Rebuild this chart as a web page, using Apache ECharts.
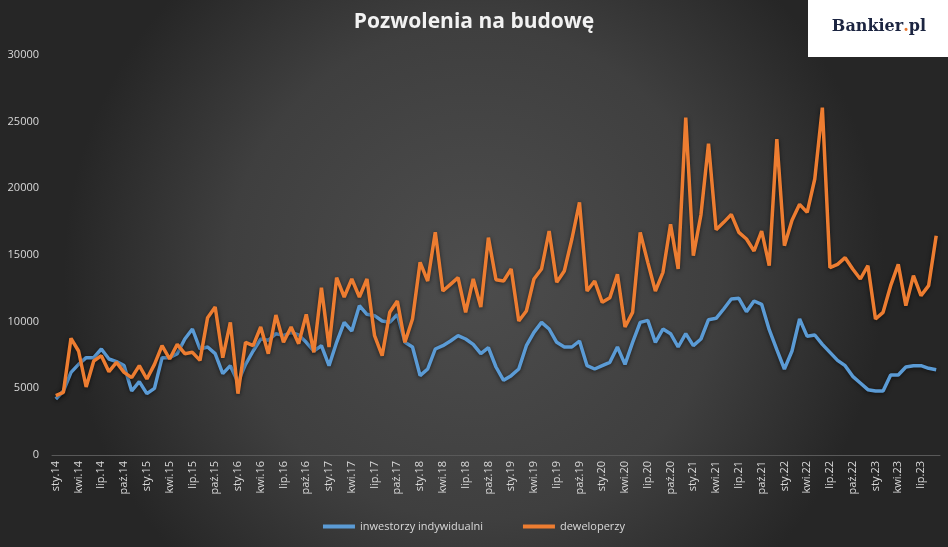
<!DOCTYPE html>
<html>
<head>
<meta charset="utf-8">
<script src="https://cdn.jsdelivr.net/npm/echarts@6/dist/echarts.min.js"></script>
<style>
    html, body { margin: 0; padding: 0; }
    #chart { width: 948px; height: 547px; }
</style>
</head>
<body>
<div id="chart"></div>
<script>
// miesiące sty.14 - wrz.23
var month_names = ["sty", "lut", "mar", "kwi", "maj", "cze", "lip", "sie", "wrz", "paź", "lis", "gru"];
var months = [];
for (var y = 14; y <= 23; y++) {
    for (var m = 0; m < 12; m++) {
        if (y == 23 && m > 8) break;
        months.push(month_names[m] + "." + y);
    }
}

var inwestorzy = [
    4200, 4800, 6200, 6800, 7300, 7300, 7950, 7200, 7000, 6700, 4800, 5500,
    4600, 5000, 7300, 7300, 7600, 8700, 9450, 7950, 8100, 7600, 6100, 6700,
    5450, 6800, 7800, 8700, 8600, 9100, 8950, 9200, 9000, 8450, 7800, 8200,
    6700, 8450, 9950, 9300, 11200, 10550, 10450, 10050, 9950, 10550, 8450, 8100,
    5950, 6450, 7950, 8200, 8550, 8950, 8700, 8300, 7600, 8050, 6600, 5600,
    5950, 6450, 8200, 9200, 9950, 9450, 8450, 8100, 8100, 8550, 6700, 6450,
    6700, 6950, 8100, 6800, 8450, 9950, 10100, 8450, 9450, 9100, 8100, 9100,
    8200, 8700, 10150, 10250, 10950, 11700, 11750, 10750, 11550, 11300, 9400, 7900,
    6450, 7800, 10200, 8900, 9000, 8300, 7700, 7100, 6700, 5900, 5400, 4900,
    4800, 4800, 6000, 6000, 6600, 6700, 6700, 6500, 6400
];

var deweloperzy = [
    4450, 4700, 8750, 7800, 5100, 7050, 7450, 6250, 6950, 6200, 5800, 6700,
    5700, 6800, 8200, 7200, 8300, 7600, 7700, 7100, 10300, 11100, 7300, 9950,
    4600, 8450, 8200, 9600, 7600, 10500, 8450, 9600, 8350, 10550, 7700, 12550,
    8100, 13300, 11850, 13200, 11850, 13200, 8950, 7450, 10700, 11550, 8450, 10200,
    14450, 13050, 16700, 12300, 12800, 13300, 10700, 13200, 11100, 16300, 13150, 13050,
    13950, 10050, 10800, 13200, 13950, 16800, 12950, 13800, 16200, 18950, 12300, 13050,
    11450, 11800, 13550, 9600, 10700, 16700, 14450, 12300, 13700, 17300, 13950, 25300,
    14950, 18000, 23350, 16900, 17450, 18050, 16700, 16200, 15300, 16800, 14200, 23700,
    15700, 17600, 18800, 18200, 20700, 26050, 14050, 14300, 14800, 13950, 13200, 14200,
    10200, 10700, 12700, 14300, 11200, 13450, 11950, 12700, 16450
];

var y_ticks = [0, 5000, 10000, 15000, 20000, 25000, 30000];
var series_names = ["inwestorzy indywidualni", "deweloperzy"];
var text_color = "#d9d9d9";

var chart = echarts.init(document.getElementById("chart"));

chart.setOption({
    backgroundColor: new echarts.graphic.RadialGradient(0.5, 0.5, 0.75, [
        { offset: 0, color: "#4d4d4d" },
        { offset: 0.6, color: "#3f3f3f" },
        { offset: 1, color: "#262626" }
    ]),
    animation: false,
    title: {
        text: "Pozwolenia na budowę",
        left: "center",
        top: 7,
        textStyle: {
            color: "#f2f2f2",
            fontFamily: "Open Sans",
            fontWeight: "bold",
            fontSize: 21
        }
    },
    // logo Bankier.pl
    graphic: [
        {
            type: "rect",
            right: 0,
            top: 0,
            shape: { width: 140, height: 57 },
            style: { fill: "#ffffff" }
        },
        {
            type: "text",
            right: 22,
            top: 19,
            style: {
                text: "{a|Bankier}{b|.}{a|pl}",
                rich: {
                    a: { fontFamily: "DejaVu Serif", fontWeight: "bold", fontSize: 16, fill: "#1c2541" },
                    b: { fontFamily: "DejaVu Serif", fontWeight: "bold", fontSize: 16, fill: "#e8742c" }
                }
            }
        }
    ],
    legend: {
        bottom: 10,
        left: "center",
        itemWidth: 32,
        itemHeight: 4,
        itemGap: 40,
        icon: "rect",
        textStyle: { color: text_color, fontFamily: "Open Sans", fontSize: 11 },
        data: series_names
    },
    grid: {
        left: 52,
        right: 8,
        top: 55,
        bottom: 92
    },
    xAxis: {
        type: "category",
        data: months,
        boundaryGap: true,
        axisLine: { lineStyle: { color: "#595959" } },
        axisTick: { interval: 2, length: 4, lineStyle: { color: "#595959" } },
        axisLabel: {
            interval: 2,
            rotate: 90,
            color: text_color,
            fontFamily: "Open Sans",
            fontSize: 11,
            margin: 6
        }
    },
    yAxis: {
        type: "value",
        min: y_ticks[0],
        max: y_ticks[y_ticks.length - 1],
        interval: 5000,
        splitLine: { show: false },
        axisLine: { show: false },
        axisTick: { show: false },
        axisLabel: {
            color: text_color,
            fontFamily: "Open Sans",
            fontSize: 11,
            margin: 13,
            formatter: function (v) { return String(v); }
        }
    },
    series: [
        {
            name: series_names[0],
            type: "line",
            data: inwestorzy,
            symbol: "none",
            color: "#5b9bd5",
            lineStyle: {
                width: 3.5,
                color: "#5b9bd5",
                shadowColor: "rgba(0,0,0,0.6)",
                shadowBlur: 4,
                shadowOffsetY: 1
            }
        },
        {
            name: series_names[1],
            type: "line",
            data: deweloperzy,
            symbol: "none",
            color: "#ed7d31",
            lineStyle: {
                width: 3.5,
                color: "#ed7d31",
                shadowColor: "rgba(0,0,0,0.6)",
                shadowBlur: 4,
                shadowOffsetY: 1
            }
        }
    ]
});
</script>
</body>
</html>
